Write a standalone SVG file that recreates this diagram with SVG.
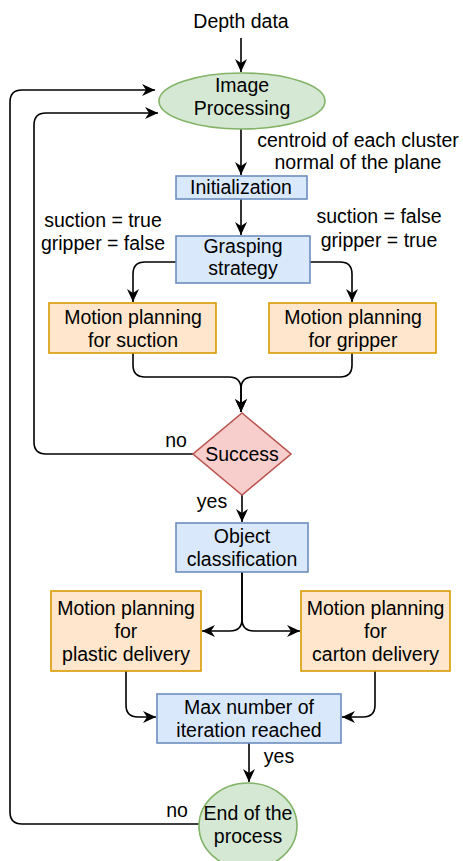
<svg xmlns="http://www.w3.org/2000/svg" width="463" height="861" viewBox="0 0 463 861">
<style>
text{font-family:"Liberation Sans",Arial,Helvetica,sans-serif;font-size:19.5px;fill:#000;text-anchor:middle}
.blue{fill:#dae8fc;stroke:#6c8ebf;stroke-width:1.6}
.orange{fill:#ffe6cc;stroke:#d79b00;stroke-width:1.6}
.green{fill:#d5e8d4;stroke:#82b366;stroke-width:1.6}
.red{fill:#f8cecc;stroke:#b85450;stroke-width:1.6}
.c{fill:none;stroke:#000;stroke-width:1.6}
</style>
<defs>
<marker id="ah" markerUnits="userSpaceOnUse" markerWidth="14" markerHeight="14" viewBox="0 0 14 14" refX="13" refY="7" orient="auto">
<path d="M0,1 L13,7 L0,13 L4,7 Z" fill="#000"/>
</marker>
</defs>
<rect width="463" height="861" fill="#fff"/>
<g id="connectors">
<path class="c" d="M241,38 L241,72" marker-end="url(#ah)"/>
<path class="c" d="M241,129 L241,175" marker-end="url(#ah)"/>
<path class="c" d="M241,199 L241,235" marker-end="url(#ah)"/>
<path class="c" d="M176,262 L145,262 Q133,262 133,274 L133,302" marker-end="url(#ah)"/>
<path class="c" d="M310,262 L340,262 Q352,262 352,274 L352,302" marker-end="url(#ah)"/>
<path class="c" d="M133,353 L133,365 Q133,377 145,377 L229,377 Q241,377 241,389 L241,412" marker-end="url(#ah)"/>
<path class="c" d="M352,353 L352,365 Q352,377 340,377 L253,377 Q241,377 241,389 L241,412" marker-end="url(#ah)"/>
<path class="c" d="M193,454 L46,454 Q34,454 34,442 L34,125 Q34,113 46,113 L158,113" marker-end="url(#ah)"/>
<path class="c" d="M242,495 L242,522" marker-end="url(#ah)"/>
<path class="c" d="M242,572 L242,619 Q242,631 230,631 L202,631" marker-end="url(#ah)"/>
<path class="c" d="M242,572 L242,619 Q242,631 254,631 L300,631" marker-end="url(#ah)"/>
<path class="c" d="M126,671 L126,705 Q126,717 138,717 L156,717" marker-end="url(#ah)"/>
<path class="c" d="M375,671 L375,705 Q375,717 363,717 L342,717" marker-end="url(#ah)"/>
<path class="c" d="M249,743 L249,782" marker-end="url(#ah)"/>
<path class="c" d="M199,824 L22,824 Q10,824 10,812 L10,102 Q10,90 22,90 L155,90" marker-end="url(#ah)"/>
</g>
<g id="labels">
<text x="241" y="28">Depth data</text>
<text x="358" y="147">centroid of each cluster</text>
<text x="358" y="169">normal of the plane</text>
<text x="103" y="227">suction = true</text>
<text x="103" y="250">gripper = false</text>
<text x="379" y="223">suction = false</text>
<text x="379" y="247">gripper = true</text>
<text x="176" y="447">no</text>
<text x="212" y="508">yes</text>
<text x="279" y="763">yes</text>
<text x="177" y="817">no</text>
</g>
<g id="image-processing">
<ellipse class="green" cx="242" cy="101" rx="83" ry="28"/>
<text x="242" y="92">Image</text>
<text x="242" y="115">Processing</text>
</g>
<g id="initialization">
<rect class="blue" x="176" y="176" width="131" height="23"/>
<text x="241" y="194">Initialization</text>
</g>
<g id="grasping-strategy">
<rect class="blue" x="176" y="236" width="134" height="47"/>
<text x="243" y="253">Grasping</text>
<text x="243" y="275">strategy</text>
</g>
<g id="mp-suction">
<rect class="orange" x="49" y="303" width="167" height="50"/>
<text x="133" y="324">Motion planning</text>
<text x="133" y="347">for suction</text>
</g>
<g id="mp-gripper">
<rect class="orange" x="269" y="303" width="167" height="50"/>
<text x="353" y="324">Motion planning</text>
<text x="353" y="347">for gripper</text>
</g>
<g id="success">
<polygon class="red" points="242,413 291,454 242,495 193,454"/>
<text x="242" y="461">Success</text>
</g>
<g id="object-classification">
<rect class="blue" x="176" y="523" width="132" height="49"/>
<text x="242" y="543">Object</text>
<text x="242" y="566">classification</text>
</g>
<g id="mp-plastic">
<rect class="orange" x="51" y="591" width="150" height="80"/>
<text x="126" y="615">Motion planning</text>
<text x="126" y="638">for</text>
<text x="126" y="661">plastic delivery</text>
</g>
<g id="mp-carton">
<rect class="orange" x="301" y="591" width="149" height="80"/>
<text x="375.5" y="615">Motion planning</text>
<text x="375.5" y="638">for</text>
<text x="375.5" y="661">carton delivery</text>
</g>
<g id="max-iteration">
<rect class="blue" x="157" y="694" width="184" height="49"/>
<text x="249" y="714">Max number of</text>
<text x="249" y="737">iteration reached</text>
</g>
<g id="end">
<ellipse class="green" cx="248" cy="826" rx="49" ry="43"/>
<text x="248" y="820">End of the</text>
<text x="248" y="843">process</text>
</g>
</svg>
